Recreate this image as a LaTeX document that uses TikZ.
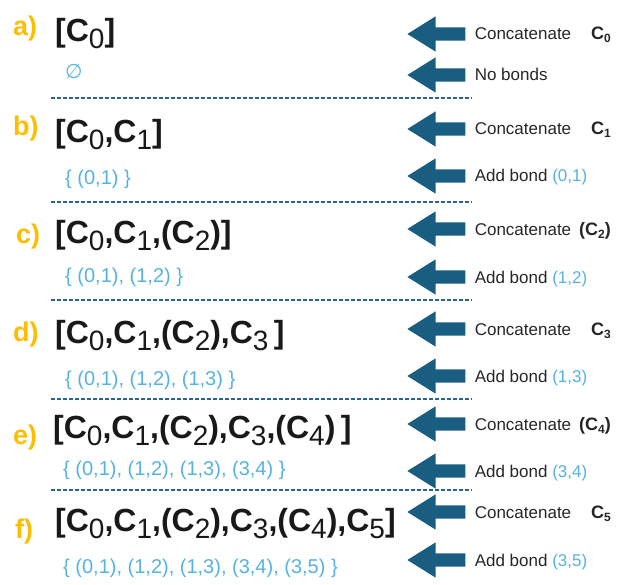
\documentclass[tikz,border=0pt]{standalone}
\usepackage{fontspec}
\setmainfont{Liberation Sans}
\newfontfamily\symfont{DejaVu Sans}
\usepackage{tikz}
\usetikzlibrary{shapes.arrows, positioning}

\definecolor{labelorange}{RGB}{255,189,0}
\definecolor{arrowblue}{RGB}{25,94,128}
\definecolor{setblue}{RGB}{85,178,226}
\definecolor{dashblue}{RGB}{40,100,140}

\newcommand{\Csub}[1]{C\raisebox{-7pt}{\mdseries\fontsize{28}{28}\selectfont #1}}
\newcommand{\Cbold}[1]{\textbf{\fontsize{18}{20}\selectfont C\raisebox{-3pt}{\fontsize{12}{12}\selectfont #1}}}

\begin{document}
\begin{tikzpicture}[
    x=1pt, y=-1pt,
    steplabel/.style={anchor=base west, inner sep=0, font=\fontsize{27}{30}\selectfont\bfseries, text=labelorange},
    formula/.style={anchor=base west, inner sep=0, font=\fontsize{32}{36}\selectfont\bfseries, text=black!90},
    bondset/.style={anchor=base west, inner sep=0, font=\fontsize{20}{24}\selectfont, text=setblue},
    blockarrow/.style={single arrow, shape border rotate=180, fill=arrowblue, draw=none, inner xsep=0pt, inner ysep=6.5pt, minimum height=58pt, single arrow head extend=11pt, single arrow tip angle=64, anchor=tip},
    note/.style={anchor=west, inner sep=0, text height=12pt, text depth=0pt, font=\fontsize{17}{20}\selectfont, text=black!85},
    sep/.style={dash pattern=on 4pt off 2pt, line width=1.2pt, draw=dashblue}
]
\useasboundingbox (0,0) rectangle (636,585);

% a)
\node[steplabel] (labA) at (13,36) {a)};
\node[formula] (fmA) at (55,42) {[\Csub{0}]};
\node[bondset] (setA) at (65,79) {{\symfont ∅}};
\node[blockarrow] (catArrA) at (407,34) {};
\node[blockarrow] (bondArrA) at (407,75) {};
\node[note, right=9pt of catArrA] (catA) {Concatenate\hspace{20pt}\Cbold{0}};
\node[note, right=9pt of bondArrA] (bondA) {No bonds};
\draw[sep] (51,98) -- (472,98);

% b)
\node[steplabel] (labB) at (13,136) {b)};
\node[formula] (fmB) at (55,143) {[\Csub{0},\Csub{1}]};
\node[bondset] (setB) at (65,185) {\{ (0,1) \}};
\node[blockarrow] (catArrB) at (407,129) {};
\node[blockarrow] (bondArrB) at (407,176) {};
\node[note, right=9pt of catArrB] (catB) {Concatenate\hspace{20pt}\Cbold{1}};
\node[note, right=9pt of bondArrB] (bondB) {Add bond \textcolor{setblue}{(0,1)}};
\draw[sep] (51,202) -- (472,202);

% c)
\node[steplabel] (labC) at (16,243) {c)};
\node[formula] (fmC) at (55,243) {[\Csub{0},\Csub{1},(\Csub{2})]};
\node[bondset] (setC) at (65,282) {\{ (0,1), (1,2) \}};
\node[blockarrow] (catArrC) at (407,229) {};
\node[blockarrow] (bondArrC) at (407,277) {};
\node[note, right=9pt of catArrC] (catC) {Concatenate\hspace{8pt}\textbf{\fontsize{18}{20}\selectfont(}\Cbold{2}\textbf{\fontsize{18}{20}\selectfont)}};
\node[note, right=9pt of bondArrC] (bondC) {Add bond \textcolor{setblue}{(1,2)}};
\draw[sep] (51,300) -- (472,300);

% d)
\node[steplabel] (labD) at (13,341) {d)};
\node[formula] (fmD) at (55,343) {[\Csub{0},\Csub{1},(\Csub{2}),\Csub{3}\,]};
\node[bondset] (setD) at (65,385) {\{ (0,1), (1,2), (1,3) \}};
\node[blockarrow] (catArrD) at (407,329) {};
\node[blockarrow] (bondArrD) at (407,376) {};
\node[note, right=9pt of catArrD] (catD) {Concatenate\hspace{20pt}\Cbold{3}};
\node[note, right=9pt of bondArrD] (bondD) {Add bond \textcolor{setblue}{(1,3)}};
\draw[sep] (51,399) -- (472,399);

% e)
\node[steplabel] (labE) at (13,444) {e)};
\node[formula] (fmE) at (53,438) {[\Csub{0},\Csub{1},(\Csub{2}),\Csub{3},(\Csub{4})\,]};
\node[bondset] (setE) at (63,475) {\{ (0,1), (1,2), (1,3), (3,4) \}};
\node[blockarrow] (catArrE) at (407,424) {};
\node[blockarrow] (bondArrE) at (407,471) {};
\node[note, right=9pt of catArrE] (catE) {Concatenate\hspace{8pt}\textbf{\fontsize{18}{20}\selectfont(}\Cbold{4}\textbf{\fontsize{18}{20}\selectfont)}};
\node[note, right=9pt of bondArrE] (bondE) {Add bond \textcolor{setblue}{(3,4)}};
\draw[sep] (51,490) -- (472,490);

% f)
\node[steplabel] (labF) at (15,538) {f)};
\node[formula] (fmF) at (55,531) {[\Csub{0},\Csub{1},(\Csub{2}),\Csub{3},(\Csub{4}),\Csub{5}]};
\node[bondset] (setF) at (63,573) {\{ (0,1), (1,2), (1,3), (3,4), (3,5) \}};
\node[blockarrow] (catArrF) at (407,512) {};
\node[blockarrow] (bondArrF) at (407,560) {};
\node[note, right=9pt of catArrF] (catF) {Concatenate\hspace{20pt}\Cbold{5}};
\node[note, right=9pt of bondArrF] (bondF) {Add bond \textcolor{setblue}{(3,5)}};

\end{tikzpicture}
\end{document}
